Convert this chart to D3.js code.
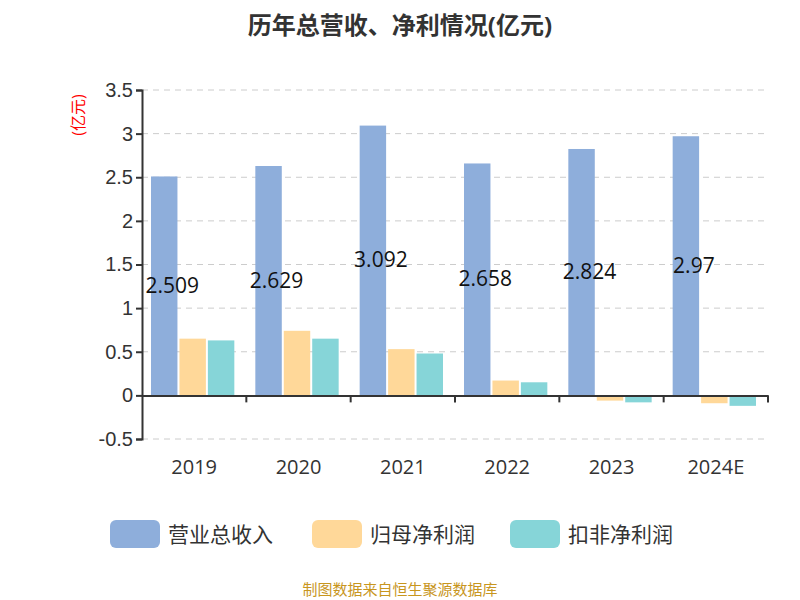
<!DOCTYPE html>
<html><head><meta charset="utf-8">
<script src="https://cdn.jsdelivr.net/npm/d3@7"></script>
<style>body{margin:0;background:#fff;font-family:"Open Sans","Noto Sans CJK SC",sans-serif}</style>
</head><body><svg id="c" width="800" height="600"></svg>
<script>
const years = ["2019", "2020", "2021", "2022", "2023", "2024E"];
const revenue = [2.509, 2.629, 3.092, 2.658, 2.824, 2.97];
const netProfit = [0.65, 0.74, 0.53, 0.17, -0.06, -0.09];
const deductedProfit = [0.63, 0.65, 0.48, 0.15, -0.08, -0.12];
const seriesNames = ["营业总收入", "归母净利润", "扣非净利润"];
const colors = ["#8eaedb", "#ffd899", "#86d5d8"];
const yTicks = [-0.5, 0, 0.5, 1, 1.5, 2, 2.5, 3, 3.5];

const svg = d3.select("#c");
const plotLeft = 142, plotRight = 768, plotTop = 90, plotBottom = 439;
const x = d3.scaleBand().domain(years).range([plotLeft, plotRight]);
const y = d3.scaleLinear().domain([-0.5, 3.5]).range([plotBottom, plotTop]);
const inner = d3.scaleBand().domain([0, 1, 2]).range([9, x.bandwidth() - 12]).paddingInner(0.07);

svg.append("text").attr("x", 400).attr("y", 34).attr("text-anchor", "middle")
  .attr("font-size", 24).attr("font-weight", "bold").attr("fill", "#333").text("历年总营收、净利情况(亿元)");

// grid
svg.append("g").selectAll("line").data(yTicks.filter(d => d !== 0)).join("line")
  .attr("x1", plotLeft).attr("x2", plotRight).attr("y1", d => y(d)).attr("y2", d => y(d))
  .attr("stroke", "#ccc").attr("stroke-dasharray", "6,5");

const yAxis = svg.append("g").attr("transform", `translate(${plotLeft},0)`)
  .call(d3.axisLeft(y).tickValues(yTicks).tickSize(6).tickFormat(d => String(d)));
yAxis.selectAll("text").attr("font-size", 20).attr("fill", "#333");
yAxis.selectAll("line,path").attr("stroke", "#333").attr("stroke-width", 2);

svg.append("text").attr("transform", "translate(84,115) rotate(-90)").attr("text-anchor", "middle")
  .attr("font-size", 16).attr("fill", "red").text("(亿元)");

const series = [revenue, netProfit, deductedProfit];
series.forEach((vals, si) => {
  svg.append("g").selectAll("rect").data(vals).join("rect")
    .attr("x", (d, i) => x(years[i]) + inner(si)).attr("width", inner.bandwidth())
    .attr("y", d => y(Math.max(0, d))).attr("height", d => Math.abs(y(d) - y(0)))
    .attr("fill", colors[si]);
});

// x axis at zero
const xAxis = svg.append("g").attr("transform", `translate(0,${y(0)})`)
  .call(d3.axisBottom(x).tickSize(0).tickFormat(""));
xAxis.selectAll("path").attr("stroke", "#333").attr("stroke-width", 2);
svg.append("g").selectAll("line").data(years).join("line")
  .attr("x1", (d, i) => plotLeft + x.step() * (i + 1)).attr("x2", (d, i) => plotLeft + x.step() * (i + 1))
  .attr("y1", y(0)).attr("y2", y(0) + 7).attr("stroke", "#333").attr("stroke-width", 2);
svg.append("g").selectAll("text").data(years).join("text")
  .attr("x", d => x(d) + x.bandwidth() / 2).attr("y", 474).attr("text-anchor", "middle")
  .attr("font-size", 20).attr("fill", "#333").text(d => d);

// value labels
svg.append("g").selectAll("text").data(revenue).join("text")
  .attr("x", (d, i) => x(years[i]) + inner(0) + inner.bandwidth() / 2 + 8)
  .attr("y", d => (y(d) + y(0)) / 2 + 7).attr("text-anchor", "middle")
  .attr("font-size", 21).attr("fill", "#111").text(d => d);

// legend
const lg = svg.append("g");
const lx = [110, 312, 510];
seriesNames.forEach((n, i) => {
  lg.append("rect").attr("x", lx[i]).attr("y", 520).attr("width", 50).attr("height", 28).attr("rx", 6).attr("fill", colors[i]);
  lg.append("text").attr("x", lx[i] + 58).attr("y", 542).attr("font-size", 21).attr("fill", "#333").text(n);
});

svg.append("text").attr("x", 400).attr("y", 595).attr("text-anchor", "middle")
  .attr("font-size", 15).attr("fill", "#c8961e").text("制图数据来自恒生聚源数据库");
</script></body></html>
